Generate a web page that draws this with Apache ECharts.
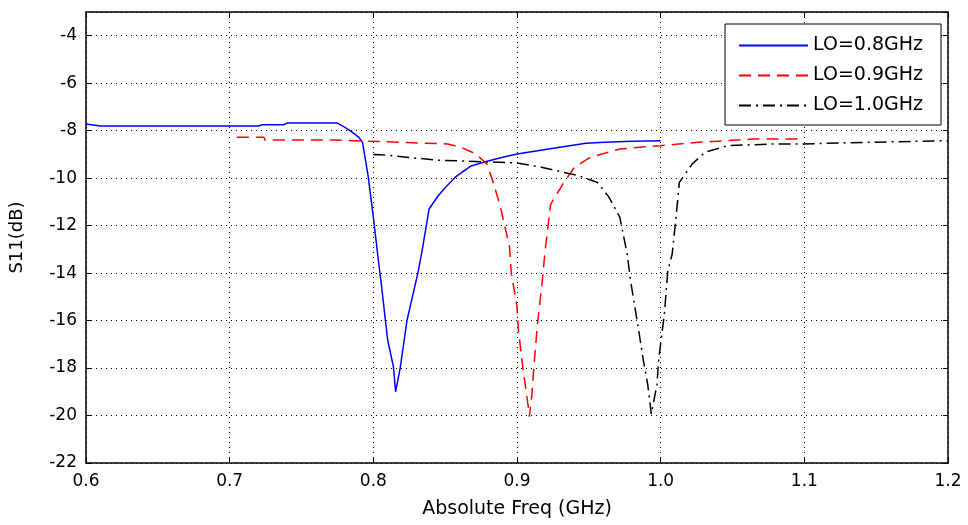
<!DOCTYPE html>
<html>
<head>
<meta charset="utf-8">
<script src="https://cdn.jsdelivr.net/npm/echarts@6/dist/echarts.min.js"></script>
<style>
html,body{margin:0;padding:0;background:#fff;}
#chart{width:968px;height:525px;}
</style>
</head>
<body>
<div id="chart"></div>
<script>
// ---- data ----
var seriesNames = ['LO=0.8GHz', 'LO=0.9GHz', 'LO=1.0GHz'];

var lo08Freq = [0.6, 0.61, 0.72, 0.7225, 0.7375, 0.74, 0.775, 0.78, 0.785, 0.79, 0.7925, 0.7965, 0.8, 0.8035, 0.8055, 0.81, 0.814, 0.8155, 0.8187, 0.8234, 0.831, 0.834, 0.8388, 0.845, 0.85, 0.857, 0.8675, 0.8766, 0.89, 0.9, 0.922, 0.948, 0.961, 0.98, 1.0];
var lo08Val  = [-7.72, -7.8, -7.8, -7.75, -7.75, -7.68, -7.68, -7.85, -8.05, -8.28, -8.49, -9.96, -11.64, -13.46, -14.44, -16.83, -17.95, -19.0, -18.0, -16.0, -14.0, -13.04, -11.3, -10.75, -10.4, -9.96, -9.5, -9.33, -9.12, -8.98, -8.77, -8.53, -8.49, -8.45, -8.42];

var lo09Freq = [0.705, 0.724, 0.7245, 0.773, 0.7735, 0.805, 0.8518, 0.861, 0.8714, 0.879, 0.883, 0.888, 0.8948, 0.896, 0.9, 0.901, 0.904, 0.908, 0.9086, 0.9104, 0.9117, 0.9143, 0.9174, 0.9195, 0.9234, 0.9326, 0.94, 0.951, 0.9716, 1.0, 1.026, 1.065, 1.1];
var lo09Val  = [-8.28, -8.28, -8.39, -8.39, -8.46, -8.46, -8.56, -8.7, -8.98, -9.4, -10.1, -11.1, -12.9, -14.0, -15.4, -16.4, -17.95, -19.7, -20.05, -19.1, -17.97, -16.1, -14.45, -13.1, -11.1, -10.18, -9.54, -9.12, -8.77, -8.63, -8.49, -8.35, -8.35];

var lo10Freq = [0.8, 0.805, 0.844, 0.9, 0.917, 0.943, 0.956, 0.964, 0.9716, 0.9767, 0.979, 0.9844, 0.988, 0.991, 0.9935, 0.9974, 0.9987, 1.0026, 1.005, 1.008, 1.0107, 1.013, 1.022, 1.031, 1.047, 1.078, 1.099, 1.143, 1.2];
var lo10Val  = [-9.0, -9.01, -9.24, -9.36, -9.54, -9.9, -10.18, -10.8, -11.65, -13.2, -14.3, -16.3, -17.7, -18.7, -19.94, -18.7, -17.6, -15.7, -13.9, -13.2, -11.65, -10.18, -9.4, -8.9, -8.63, -8.56, -8.56, -8.49, -8.42];

var xTicks = ['0.6', '0.7', '0.8', '0.9', '1.0', '1.1', '1.2'];
var yTicks = ['-22', '-20', '-18', '-16', '-14', '-12', '-10', '-8', '-6', '-4'];

var xName = 'Absolute Freq (GHz)';
var yName = 'S11(dB)';

function pairs(xs, ys) { return xs.map(function (x, i) { return [x, ys[i]]; }); }

var FONT = 'DejaVu Sans';
var chart = echarts.init(document.getElementById('chart'), null, {renderer: 'canvas'});

var xMin = parseFloat(xTicks[0]), xMax = parseFloat(xTicks[xTicks.length - 1]);
var yMin = parseFloat(yTicks[0]);

var gridLine = {show: true, lineStyle: {color: '#000', width: 1, type: [1, 4]}};

var option = {
  backgroundColor: '#fff',
  animation: false,
  grid: {left: 84, top: 12, right: 20, bottom: 62, containLabel: false},
  legend: {
    right: 27, top: 24, orient: 'vertical',
    backgroundColor: '#fff', borderColor: '#000', borderWidth: 1,
    padding: [12, 18, 10, 13],
    itemWidth: 69, itemHeight: 14, itemGap: 11,
    itemStyle: {opacity: 0},
    textStyle: {fontFamily: FONT, fontSize: 19, color: '#000', lineHeight: 19},
    data: seriesNames
  },
  xAxis: [{
    type: 'value', min: xMin, max: xMax, interval: 0.1,
    name: xName, nameLocation: 'middle', nameGap: 37,
    nameTextStyle: {fontFamily: FONT, fontSize: 19, color: '#000'},
    axisLine: {show: true, onZero: false, lineStyle: {color: '#000', width: 1.5}},
    axisTick: {show: true, inside: true, length: 5, lineStyle: {color: '#000'}},
    axisLabel: {fontFamily: FONT, fontSize: 17, color: '#000', margin: 10,
      formatter: function (v) { return v.toFixed(1); }},
    splitLine: gridLine
  }, {
    type: 'value', position: 'top', min: xMin, max: xMax, interval: 0.1,
    axisLine: {show: true, onZero: false, lineStyle: {color: '#000', width: 1.5}},
    axisTick: {show: true, inside: true, length: 5, lineStyle: {color: '#000'}},
    axisLabel: {show: false}, splitLine: {show: false}
  }],
  yAxis: [{
    type: 'value', min: yMin, max: -3, interval: 2,
    name: yName, nameLocation: 'middle', nameGap: 60, nameRotate: 90,
    nameTextStyle: {fontFamily: FONT, fontSize: 18, color: '#000'},
    axisLine: {show: true, onZero: false, lineStyle: {color: '#000', width: 1.5}},
    axisTick: {show: true, inside: true, length: 5, lineStyle: {color: '#000'}},
    axisLabel: {fontFamily: FONT, fontSize: 17, color: '#000', margin: 9, showMaxLabel: false,
      formatter: function (v) { return yTicks.indexOf(String(v)) >= 0 ? String(v) : ''; }},
    splitLine: gridLine
  }, {
    type: 'value', position: 'right', min: yMin, max: -3, interval: 2,
    axisLine: {show: true, onZero: false, lineStyle: {color: '#000', width: 1.5}},
    axisTick: {show: true, inside: true, length: 5, lineStyle: {color: '#000'}},
    axisLabel: {show: false}, splitLine: {show: false}
  }],
  series: [{
    name: seriesNames[0], type: 'line', symbol: 'none', showSymbol: false,
    data: pairs(lo08Freq, lo08Val),
    lineStyle: {color: '#0000ff', width: 1.5, type: 'solid'},
    itemStyle: {color: '#0000ff'}
  }, {
    name: seriesNames[1], type: 'line', symbol: 'none', showSymbol: false,
    data: pairs(lo09Freq, lo09Val),
    lineStyle: {color: '#ff0000', width: 1.5, type: [12, 7]},
    itemStyle: {color: '#ff0000'}
  }, {
    name: seriesNames[2], type: 'line', symbol: 'none', showSymbol: false,
    data: pairs(lo10Freq, lo10Val),
    lineStyle: {color: '#000000', width: 1.5, type: [12, 5, 2, 5]},
    itemStyle: {color: '#000000'}
  }]
};
chart.setOption(option);
</script>
</body>
</html>
